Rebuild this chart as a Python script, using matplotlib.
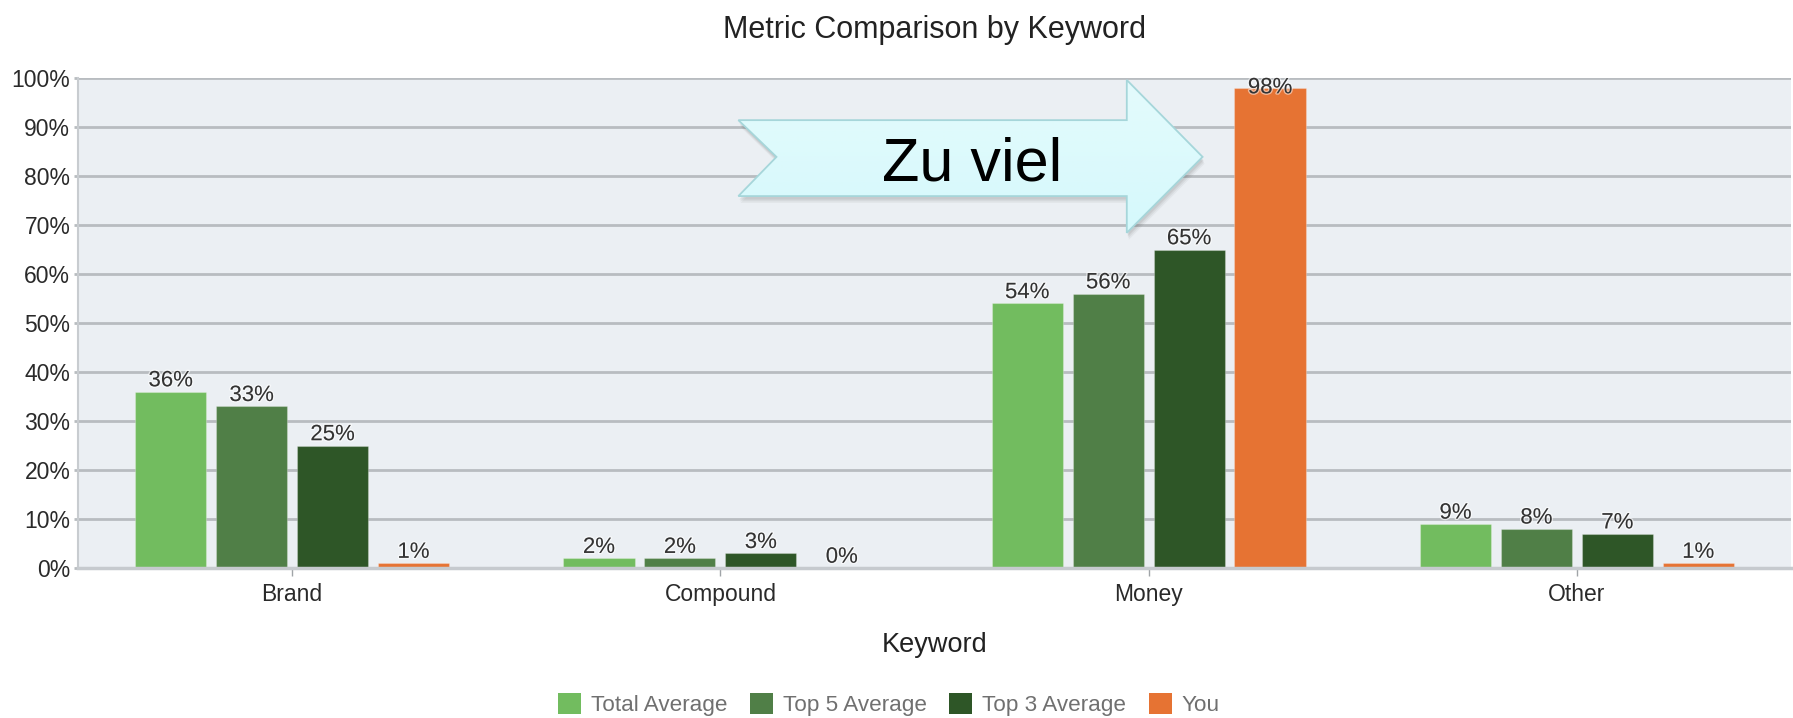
import numpy as np
import matplotlib
matplotlib.use("Agg")
import matplotlib.pyplot as plt
from matplotlib.patches import Polygon
from matplotlib.colors import LinearSegmentedColormap
import matplotlib.patheffects as pe

plt.rcParams['font.family'] = ['Liberation Sans', 'DejaVu Sans']

# ---- data ----
categories = ['Brand', 'Compound', 'Money', 'Other']
series_names = ['Total Average', 'Top 5 Average', 'Top 3 Average', 'You']
total_avg = [36, 2, 54, 9]
top5_avg = [33, 2, 56, 8]
top3_avg = [25, 3, 65, 7]
you = [1, 0, 98, 1]
y_ticks = [0, 10, 20, 30, 40, 50, 60, 70, 80, 90, 100]
title = 'Metric Comparison by Keyword'
x_title = 'Keyword'
callout = 'Zu viel'

series = [total_avg, top5_avg, top3_avg, you]
colors = ['#72BC5F', '#507F47', '#2E5627', '#E67333']

W, H = 1793, 718
fig = plt.figure(figsize=(W / 100, H / 100), dpi=100)
ax = fig.add_axes([78 / W, 1 - 568 / H, (1791 - 78) / W, (568 - 78) / H])
ax.set_facecolor('#EBEFF3')

x = np.arange(len(categories))
pitch = 0.189
bw = 0.166
for i, (vals, col, name) in enumerate(zip(series, colors, series_names)):
    xs = x + (i - 1.5) * pitch
    ax.bar(xs, vals, width=bw, color=col, label=name, zorder=3,
           edgecolor=(1, 1, 1, 0.25), linewidth=0.8)
    for xi, v in zip(xs, vals):
        if v > 95:
            ax.annotate(f'{v}%', xy=(xi, 100), xytext=(0, 0.5),
                        textcoords='offset points', ha='center', va='top',
                        fontsize=16, color='#333333', zorder=5,
                        path_effects=[pe.withStroke(linewidth=2, foreground=(1, 1, 1, 0.5))])
        else:
            ax.annotate(f'{v}%', xy=(xi, v), xytext=(0, 3.8),
                        textcoords='offset points', ha='center', va='baseline',
                        fontsize=16, color='#333333', zorder=5,
                        path_effects=[pe.withStroke(linewidth=2, foreground=(1, 1, 1, 0.6))])

ax.set_xlim(-0.5, 3.5)
ax.set_ylim(0, 100)
ax.set_yticks(y_ticks)
ax.set_yticklabels([f'{t}%' for t in y_ticks])
ax.set_xticks(x)
ax.set_xticklabels(categories)

ax.grid(axis='y', color='#B8BCC0', linewidth=2.0, zorder=1)
ax.grid(axis='x', visible=False)
for s in ['top', 'right']:
    ax.spines[s].set_visible(False)
ax.spines['left'].set_color('#C8CCD0')
ax.spines['left'].set_linewidth(1.5)
ax.spines['bottom'].set_color('#C6CACE')
ax.spines['bottom'].set_linewidth(2.5)
ax.spines['bottom'].set_zorder(4)

ax.tick_params(axis='y', length=3, width=2, color='#B8BCC0', pad=2.5,
               labelsize=16.5, labelcolor='#2a2a2a')
ax.tick_params(axis='x', length=6, width=1, color='#A0A4A8', pad=5,
               labelsize=16.5, labelcolor='#2a2a2a')

ax.set_xlabel(x_title, fontsize=19.5, color='#222222')
ax.xaxis.set_label_coords(0.5, -0.13)
ax.xaxis.label.set_va('top')

ax.text(0.5, (568 - 38) / 490, title, transform=ax.transAxes, ha='center',
        va='baseline', fontsize=22, color='#222222')

# ---- callout arrow (data coordinates) ----
tail_x, notch_x, head_x, tip_x = 1.042, 1.131, 1.949, 2.126
shaft_top, shaft_bot, head_top, head_bot, mid_y = 91.4, 75.9, 99.6, 68.4, 83.9
pts = [(tail_x, shaft_top), (head_x, shaft_top), (head_x, head_top), (tip_x, mid_y),
       (head_x, head_bot), (head_x, shaft_bot), (tail_x, shaft_bot), (notch_x, mid_y)]

# soft shadow
for k, a in zip([4, 3, 2], [0.06, 0.08, 0.10]):
    dx = k * 0.0012
    dy = -k * 0.35
    sh = Polygon([(px + dx, py + dy) for px, py in pts], closed=True,
                 facecolor=(0.3, 0.3, 0.3, a), edgecolor='none', zorder=6,
                 clip_on=False)
    ax.add_patch(sh)

grad = np.linspace(0, 1, 100).reshape(-1, 1)
cmap = LinearSegmentedColormap.from_list('cy', ['#E4FBFC', '#D5F9FC'])
im = ax.imshow(grad, extent=(tail_x, tip_x, head_bot, head_top), origin='upper',
               cmap=cmap, aspect='auto', zorder=7, interpolation='bilinear')
fillpoly = Polygon(pts, closed=True, transform=ax.transData, facecolor='none', edgecolor='none')
ax.add_patch(fillpoly)
im.set_clip_path(fillpoly)
arrow = Polygon(pts, closed=True, facecolor='none', edgecolor='#A6D6DA',
                linewidth=1.3, zorder=8, clip_on=False)
ax.add_patch(arrow)
ax.set_xlim(-0.5, 3.5)
ax.set_ylim(0, 100)

ax.text((notch_x + head_x) / 2 + 0.048, mid_y - 1.7, callout, ha='center', va='center',
        fontsize=44, color='#000000', zorder=9)

# ---- legend ----
leg = fig.legend(loc='upper left', bbox_to_anchor=(558 / W, 1 - 693 / H), ncol=4,
                 frameon=False, fontsize=16.2, handlelength=1.03, handleheight=1.03,
                 handletextpad=0.45, columnspacing=0.98, borderpad=0, borderaxespad=0)
for t in leg.get_texts():
    t.set_color('#707070')
for h in leg.legend_handles:
    h.set_edgecolor('none')

fig.savefig('out.png', dpi=100)
